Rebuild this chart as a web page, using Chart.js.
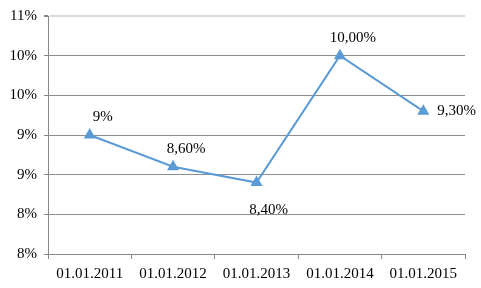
<!DOCTYPE html>
<html>
<head>
<meta charset="utf-8">
<script src="https://cdn.jsdelivr.net/npm/chart.js@4"></script>
<style>
  html, body { margin: 0; padding: 0; background: #fff; }
  #wrap { width: 481px; height: 288px; }
</style>
</head>
<body>
<div id="wrap"><canvas id="chart" width="481" height="288"></canvas></div>
<script>
// data
const dates = ["01.01.2011", "01.01.2012", "01.01.2013", "01.01.2014", "01.01.2015"];
const rates = [9.0, 8.6, 8.4, 10.0, 9.3];
const rateLabels = ["9%", "8,60%", "8,40%", "10,00%", "9,30%"];
const labelSide = ["above", "above", "below", "above", "right"];

const yMin = 7.5;
const yMax = 10.5;
const yStep = 0.5;

const FONT = "'Liberation Serif', 'Times New Roman', serif";
const BLUE = "#5B9BD5";

// draws the value labels next to each marker
const valueLabels = {
  id: "valueLabels",
  afterDatasetsDraw(chart) {
    const ctx = chart.ctx;
    const meta = chart.getDatasetMeta(0);
    ctx.save();
    ctx.font = "15px " + FONT;
    ctx.fillStyle = "#000";
    ctx.textBaseline = "middle";
    meta.data.forEach((pt, i) => {
      const side = labelSide[i];
      let x = pt.x, y = pt.y;
      if (side === "above") {
        ctx.textAlign = "center";
        x += 13; y -= 18;
      } else if (side === "below") {
        ctx.textAlign = "center";
        x += 12; y += 27;
      } else {
        ctx.textAlign = "left";
        x += 14;
      }
      ctx.fillText(rateLabels[i], x, y);
    });
    ctx.restore();
  }
};

new Chart(document.getElementById("chart"), {
  type: "line",
  data: {
    labels: dates,
    datasets: [{
      data: rates,
      borderColor: BLUE,
      backgroundColor: BLUE,
      borderWidth: 2,
      pointStyle: "triangle",
      pointRadius: 7,
      pointHoverRadius: 7,
      pointBorderWidth: 0,
      tension: 0,
    }]
  },
  options: {
    responsive: false,
    animation: false,
    layout: { padding: { left: 0, right: 16, top: 15, bottom: 0 } },
    plugins: {
      legend: { display: false },
      tooltip: { enabled: false }
    },
    scales: {
      x: {
        offset: true,
        grid: {
          offset: true,
          drawOnChartArea: false,
          drawTicks: true,
          tickLength: 5,
          color: "#888"
        },
        border: { color: "#888", width: 1 },
        ticks: {
          color: "#000",
          font: { family: FONT, size: 15 },
          maxRotation: 0,
          padding: 6
        },
        afterFit(axis) { axis.height = 34; }
      },
      y: {
        min: yMin,
        max: yMax,
        ticks: {
          stepSize: yStep,
          color: "#000",
          font: { family: FONT, size: 15 },
          padding: 7,
          callback: (v) => Math.round(v) + "%"
        },
        grid: {
          color: (c) => c.tick && c.tick.value === yMax ? "#d9d9d9" : "#8c8c8c",
          lineWidth: (c) => c.tick && c.tick.value === yMax ? 2 : 1,
          tickLength: 4,
          tickColor: "#888"
        },
        border: { color: "#888", width: 1 },
        afterFit(axis) { axis.width = 48; }
      }
    }
  },
  plugins: [valueLabels]
});
</script>
</body>
</html>
